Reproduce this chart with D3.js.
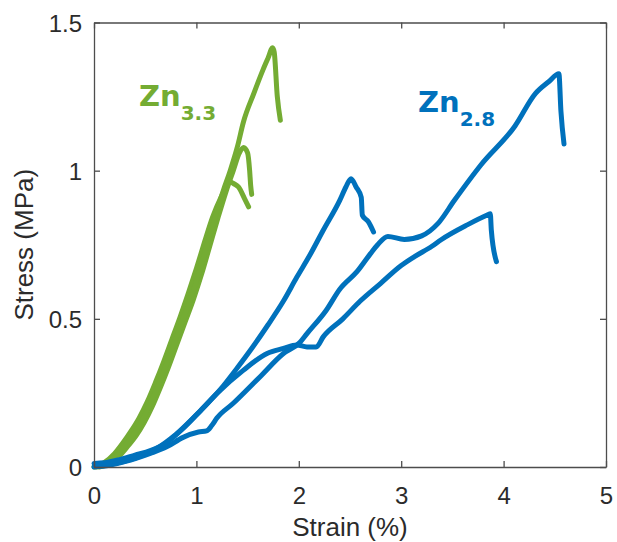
<!DOCTYPE html>
<html>
<head>
<meta charset="utf-8">
<script src="https://cdn.jsdelivr.net/npm/d3@7"></script>
<style>
  body { margin: 0; background: #fff; }
  text { font-family: "Liberation Sans", Arial, Helvetica, sans-serif; }
</style>
</head>
<body>
<svg id="chart" width="617" height="542"></svg>
<script>
// Axis ticks
const xTicks = [0, 1, 2, 3, 4, 5];
const yTicks = [0, 0.5, 1, 1.5];
const xTickLabels = ["0", "1", "2", "3", "4", "5"];
const yTickLabels = ["0", "0.5", "1", "1.5"];

// Zn3.3 specimens: [strain %, stress MPa]
const zn33A = [[0.02,0.0],[0.12,0.012],[0.22,0.038],[0.30,0.07],[0.38,0.105],[0.46,0.15],[0.54,0.205],[0.62,0.27],[0.70,0.34],[0.78,0.415],[0.86,0.49],[0.94,0.565],[1.02,0.65],[1.10,0.745],[1.18,0.84],[1.26,0.93],[1.33,1.0],[1.40,1.08],[1.46,1.165],[1.56,1.26],[1.65,1.34],[1.70,1.38],[1.745,1.415],[1.76,1.40],[1.79,1.25],[1.82,1.17]];
const zn33B = [[0.05,0.0],[0.15,0.012],[0.25,0.038],[0.33,0.07],[0.41,0.105],[0.49,0.15],[0.57,0.205],[0.65,0.27],[0.73,0.34],[0.81,0.415],[0.89,0.49],[0.97,0.565],[1.05,0.65],[1.13,0.745],[1.21,0.84],[1.29,0.93],[1.36,1.0],[1.42,1.06],[1.46,1.078],[1.50,1.06],[1.52,1.0],[1.53,0.95],[1.54,0.92]];
const zn33C = [[0.0,0.0],[0.10,0.015],[0.20,0.045],[0.28,0.08],[0.36,0.12],[0.44,0.165],[0.52,0.22],[0.60,0.285],[0.68,0.355],[0.76,0.43],[0.84,0.505],[0.92,0.585],[1.0,0.67],[1.08,0.76],[1.16,0.845],[1.24,0.91],[1.30,0.95],[1.33,0.962],[1.37,0.955],[1.41,0.945],[1.47,0.906],[1.51,0.878]];

// Zn2.8 specimens: [strain %, stress MPa]
const zn28A = [[0.0,0.012],[0.1,0.014],[0.25,0.025],[0.4,0.04],[0.55,0.055],[0.7,0.08],[0.87,0.13],[1.04,0.19],[1.23,0.26],[1.40,0.335],[1.55,0.405],[1.70,0.48],[1.85,0.56],[1.98,0.64],[2.10,0.71],[2.24,0.80],[2.40,0.90],[2.46,0.945],[2.51,0.973],[2.56,0.945],[2.61,0.91],[2.62,0.85],[2.68,0.827],[2.73,0.793]];
const zn28B = [[0.0,0.0],[0.15,0.006],[0.3,0.018],[0.55,0.046],[0.71,0.068],[0.87,0.10],[1.02,0.118],[1.1,0.122],[1.15,0.14],[1.2,0.165],[1.36,0.215],[1.62,0.304],[1.85,0.383],[2.01,0.42],[2.08,0.45],[2.27,0.53],[2.4,0.60],[2.57,0.66],[2.7,0.72],[2.77,0.75],[2.87,0.778],[3.03,0.768],[3.2,0.78],[3.36,0.822],[3.52,0.90],[3.78,1.02],[4.11,1.15],[4.31,1.26],[4.44,1.30],[4.54,1.327],[4.56,1.2],[4.59,1.09]];
const zn28C = [[0.02,0.006],[0.2,0.012],[0.4,0.03],[0.6,0.06],[0.8,0.11],[1.04,0.19],[1.2,0.248],[1.46,0.327],[1.69,0.383],[1.85,0.40],[1.98,0.412],[2.08,0.405],[2.17,0.405],[2.24,0.44],[2.43,0.50],[2.6,0.56],[2.8,0.62],[3.0,0.68],[3.13,0.71],[3.3,0.745],[3.39,0.767],[3.65,0.818],[3.85,0.852],[3.87,0.855],[3.88,0.80],[3.93,0.693]];

const green = "#74AC33";
const blue = "#0071BC";

const svg = d3.select("#chart");
const mLeft = 94, mRight = 606, mTop = 22.5, mBottom = 467;

const x = d3.scaleLinear().domain([0, 5]).range([mLeft, mRight]);
const y = d3.scaleLinear().domain([0, 1.5]).range([mBottom, mTop]);

const line = d3.line().x(d => x(d[0])).y(d => y(d[1])).curve(d3.curveMonotoneX);

// stress-strain curves
const curves = [
  {data: zn33C, color: green, w: 5},
  {data: zn33B, color: green, w: 5},
  {data: zn33A, color: green, w: 5},
  {data: zn28C, color: blue, w: 5},
  {data: zn28B, color: blue, w: 5},
  {data: zn28A, color: blue, w: 5}
];
svg.append("g").selectAll("path").data(curves).join("path")
  .attr("d", d => line(d.data))
  .attr("fill", "none")
  .attr("stroke", d => d.color)
  .attr("stroke-width", d => d.w)
  .attr("stroke-linejoin", "round")
  .attr("stroke-linecap", "round");

// axes frame with inward ticks
const axisColor = "#4d4d4d";
const tickLen = 6;
const fmtX = (d, i) => xTickLabels[i];
const fmtY = (d, i) => yTickLabels[i];

const gB = svg.append("g").attr("transform", `translate(0,${mBottom})`)
  .call(d3.axisBottom(x).tickValues(xTicks).tickFormat(fmtX).tickSizeInner(-tickLen).tickSizeOuter(0).tickPadding(20));
const gT = svg.append("g").attr("transform", `translate(0,${mTop})`)
  .call(d3.axisTop(x).tickValues(xTicks).tickFormat("").tickSizeInner(-tickLen).tickSizeOuter(0));
const gL = svg.append("g").attr("transform", `translate(${mLeft},0)`)
  .call(d3.axisLeft(y).tickValues(yTicks).tickFormat(fmtY).tickSizeInner(-tickLen).tickSizeOuter(0).tickPadding(12));
const gR = svg.append("g").attr("transform", `translate(${mRight},0)`)
  .call(d3.axisRight(y).tickValues(yTicks).tickFormat("").tickSizeInner(-tickLen).tickSizeOuter(0));

[gB, gT, gL, gR].forEach(g => {
  g.select(".domain").attr("stroke", axisColor).attr("stroke-width", 1.3);
  g.selectAll(".tick line").attr("stroke", axisColor).attr("stroke-width", 1.3);
  g.selectAll(".tick text").attr("fill", "#2b2b2b").style("font-size", "24px")
    .style("font-family", "'Liberation Sans', Arial, sans-serif");
});
gL.selectAll(".tick text").attr("dy", "0.36em");

// axis titles
svg.append("text")
  .attr("x", (mLeft + mRight) / 2).attr("y", 536)
  .attr("text-anchor", "middle").attr("fill", "#2b2b2b")
  .style("font-size", "26px").text("Strain (%)");
svg.append("text")
  .attr("transform", `translate(33,${(mTop + mBottom) / 2}) rotate(-90)`)
  .attr("text-anchor", "middle").attr("fill", "#2b2b2b")
  .style("font-size", "26px").text("Stress (MPa)");

// series labels
function seriesLabel(px, py, main, sub, color) {
  const t = svg.append("text").attr("x", px).attr("y", py).attr("fill", color)
    .style("font-weight", "bold").style("font-family", "'DejaVu Sans', Verdana, sans-serif");
  t.append("tspan").style("font-size", "29px").text(main);
  t.append("tspan").attr("dy", 14).style("font-size", "20px").text(sub);
}
seriesLabel(139, 106, "Zn", "3.3", green);
seriesLabel(418, 112, "Zn", "2.8", blue);
</script>
</body>
</html>
